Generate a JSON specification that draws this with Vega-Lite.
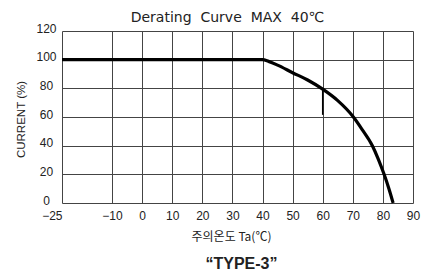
{
  "$schema": "https://vega.github.io/schema/vega-lite/v6.json",
  "width": 351,
  "height": 172,
  "autosize": "none",
  "padding": {"left": 62, "top": 31, "right": 18, "bottom": 72},
  "background": "white",
  "config": {"view": {"stroke": null}, "font": "Liberation Sans"},
  "title": {
    "text": "Derating \u00a0Curve \u00a0MAX \u00a040℃",
    "font": "DejaVu Sans",
    "fontSize": 14,
    "fontWeight": "normal",
    "color": "#222",
    "offset": -3,
    "dx": -10,
    "anchor": "middle"
  },
  "datasets": {
    "curve": [
      {"t": -25, "current": 100},
      {"t": 40, "current": 100},
      {"t": 42, "current": 98.8},
      {"t": 45, "current": 96.2},
      {"t": 50, "current": 90.9},
      {"t": 55, "current": 85.8},
      {"t": 60, "current": 79.4},
      {"t": 65, "current": 71.4},
      {"t": 70, "current": 60.5},
      {"t": 73, "current": 51.6},
      {"t": 76.5, "current": 40},
      {"t": 78.5, "current": 30.5},
      {"t": 80.4, "current": 20},
      {"t": 82, "current": 10},
      {"t": 83.4, "current": 0}
    ],
    "mark60": [{"t": 60, "top": 79, "bottom": 61.5}]
  },
  "layer": [
    {
      "data": {"name": "curve"},
      "mark": {"type": "line", "color": "black", "strokeWidth": 3.2, "interpolate": "monotone"},
      "encoding": {
        "x": {
          "field": "t",
          "type": "quantitative",
          "scale": {"type": "linear", "domain": [-25, -10, 90], "range": [0, 50, 351], "nice": false, "zero": false},
          "axis": {
            "values": [-25, -10, 0, 10, 20, 30, 40, 50, 60, 70, 80, 90],
            "grid": true,
            "gridColor": "#444",
            "gridWidth": 1,
            "domain": false,
            "ticks": false,
            "tickSize": 0,
            "labelPadding": 7,
            "labelFontSize": 12,
            "labelColor": "#222",
            "labelAlign": {"condition": {"test": "datum.value == -25", "value": "right"}, "value": "center"},
            "title": "주의온도 Ta(℃)",
            "titleFont": "Noto Sans CJK KR",
            "titleFontSize": 12,
            "titleFontWeight": "normal",
            "titleColor": "#222",
            "titleX": 169,
            "titleY": 28,
            "titleBaseline": "top"
          }
        },
        "y": {
          "field": "current",
          "type": "quantitative",
          "scale": {"domain": [0, 120], "nice": false},
          "axis": {
            "values": [0, 20, 40, 60, 80, 100, 120],
            "grid": true,
            "gridColor": "#444",
            "gridWidth": 1,
            "domain": false,
            "ticks": false,
            "tickSize": 0,
            "labelAlign": "center",
            "labelPadding": 16,
            "labelBaseline": "middle",
            "labelOffset": -3,
            "labelFontSize": 12,
            "labelColor": "#222",
            "title": "CURRENT (%)",
            "titleFontSize": 11.5,
            "titleFontWeight": "normal",
            "titleColor": "#222",
            "titleX": -41,
            "titleY": 88,
            "titleBaseline": "middle"
          }
        }
      }
    },
    {
      "data": {"name": "mark60"},
      "mark": {"type": "rule", "color": "black", "strokeWidth": 1.5},
      "encoding": {
        "x": {
          "field": "t",
          "type": "quantitative",
          "axis": {
            "orient": "bottom",
            "grid": false,
            "labels": false,
            "domain": false,
            "ticks": false,
            "title": "“TYPE-3”",
            "titleFont": "Liberation Sans",
            "titleFontSize": 16,
            "titleFontWeight": "bold",
            "titleColor": "#222",
            "titleX": 179,
            "titleY": 52,
            "titleBaseline": "top"
          }
        },
        "y": {
          "field": "top",
          "type": "quantitative",
          "axis": {
            "values": [0, 20, 40, 60, 80, 100, 120],
            "grid": true,
            "gridColor": "#444",
            "gridWidth": 1,
            "domain": false,
            "ticks": false,
            "tickSize": 0,
            "labelAlign": "center",
            "labelPadding": 16,
            "labelBaseline": "middle",
            "labelOffset": -3,
            "labelFontSize": 12,
            "labelColor": "#222",
            "title": "CURRENT (%)",
            "titleFontSize": 11.5,
            "titleFontWeight": "normal",
            "titleColor": "#222",
            "titleX": -41,
            "titleY": 88,
            "titleBaseline": "middle"
          }
        },
        "y2": {"field": "bottom"}
      }
    }
  ],
  "resolve": {"axis": {"x": "independent"}}
}
